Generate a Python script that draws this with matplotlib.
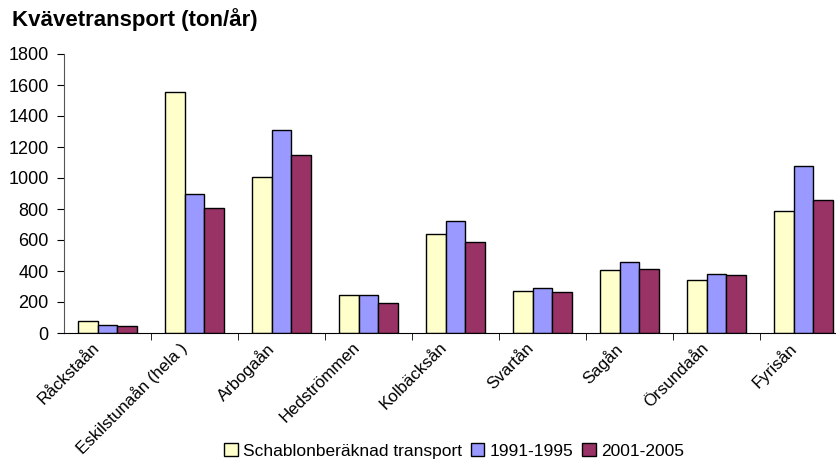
import numpy as np
import matplotlib.pyplot as plt
import matplotlib.transforms as mtransforms
from matplotlib.ticker import FixedLocator

plt.rcParams['font.family'] = ['Liberation Sans', 'DejaVu Sans']

rivers = ['Råckstaån', 'Eskilstunaån (hela )', 'Arbogaån', 'Hedströmmen',
          'Kolbäcksån', 'Svartån', 'Sagån', 'Örsundaån', 'Fyrisån']
schablon = [77, 1555, 1004, 247, 640, 273, 405, 345, 790]
p1991_1995 = [54, 900, 1307, 247, 725, 288, 455, 383, 1080]
p2001_2005 = [45, 804, 1148, 191, 590, 265, 415, 375, 855]

series = [('Schablonberäknad transport', schablon, '#FFFFCC'),
          ('1991-1995', p1991_1995, '#9999FF'),
          ('2001-2005', p2001_2005, '#993366')]

fig = plt.figure(figsize=(8.37, 4.59), dpi=100)
ax = fig.add_axes([64 / 837, 1 - 333 / 459, 783 / 837, (333 - 54) / 459])

x = np.arange(len(rivers))
w = 0.226
for i, (name, vals, col) in enumerate(series):
    ax.bar(x + (i - 1) * w, vals, w, color=col, edgecolor='black',
           linewidth=1.0, label=name)

ax.set_xlim(-0.5, len(rivers) - 0.5)
ax.set_ylim(0, 1800)
ax.set_yticks(range(0, 1801, 200))
ax.set_xticks(x)
ax.set_xticklabels(rivers, rotation=45, ha='right', rotation_mode='anchor',
                   fontsize=12.2)
ax.xaxis.set_minor_locator(FixedLocator(np.arange(0.5, len(rivers) - 0.5, 1)))
ax.tick_params(axis='x', which='major', length=0, pad=5)
ax.tick_params(axis='x', which='minor', length=5, direction='out')
ax.tick_params(axis='y', length=5, direction='out', labelsize=13, pad=6)

# shift the rotated labels to the left, like Excel does
shift = mtransforms.ScaledTranslation(-16 / 100, 0, fig.dpi_scale_trans)
for lab in ax.get_xticklabels():
    lab.set_transform(lab.get_transform() + shift)

for s in ['top', 'right']:
    ax.spines[s].set_visible(False)
ax.spines['left'].set_color('#555555')

fig.text(12 / 837, 1 - 20 / 459, 'Kvävetransport (ton/år)', fontsize=16,
         fontweight='bold', va='center')

fig.legend(loc='center', bbox_to_anchor=(454 / 837, 1 - 451 / 459), ncol=3,
           frameon=False, fontsize=12.5, handlelength=0.8, handleheight=0.8,
           handletextpad=0.3, columnspacing=0.5, borderpad=0)

plt.savefig('out.png', dpi=100)
